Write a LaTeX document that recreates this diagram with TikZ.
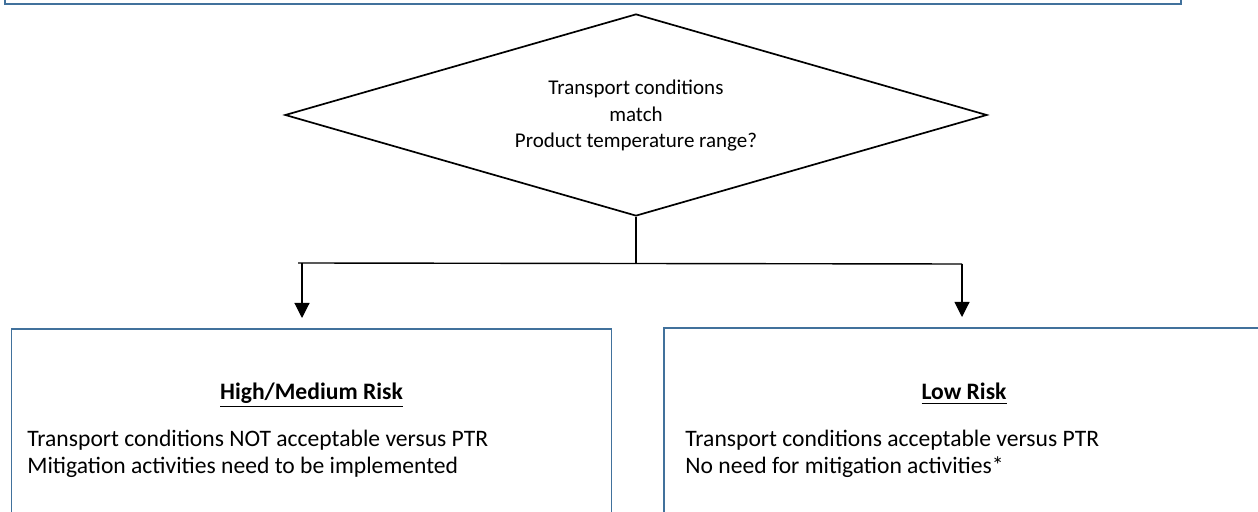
\documentclass[tikz,border=0pt]{standalone}
\usepackage{fontspec}
\setmainfont{Carlito}
\usetikzlibrary{shapes.geometric,arrows.meta,positioning}
\definecolor{boxblue}{RGB}{65,113,156}
\tikzset{
  bluebox/.style={draw=boxblue,line width=0.8pt,inner sep=0pt},
  riskbox/.style={bluebox,minimum width=300pt,minimum height=130pt,anchor=north},
  riskhead/.style={font=\fontsize{11.8}{14.5}\selectfont\bfseries,anchor=base,inner sep=0pt},
  riskline/.style={font=\fontsize{11.8}{14.5}\selectfont,anchor=base west,inner sep=0pt},
  link/.style={line width=0.55pt},
  arrowlink/.style={link,-{Triangle[width=7.5pt,length=7.5pt]},shorten >=5pt}
}
\begin{document}
\begin{tikzpicture}[x=0.5pt,y=-0.5pt]
\useasboundingbox (0,0) rectangle (1258,512);
\clip (0,0) rectangle (1258,512);
% boxes
\node[bluebox,minimum width=588pt,minimum height=60pt,anchor=south] (topbox) at (593,5) {};
\node[draw,diamond,line width=0.85pt,minimum width=351pt,minimum height=101pt,aspect=3.475,inner sep=0pt] (dec) at (636,115) {};
\node[font=\fontsize{10.5}{13.25}\selectfont,align=center,inner sep=0pt] (dectext) at (636,116) {Transport conditions\\match\\Product temperature range?};
\node[riskbox] (hmbox) at (311.5,328) {};
\node[riskbox] (lowbox) at (964,327) {};
% texts
\node[riskhead] (hmhead) at (311.5,400) {\underline{High/Medium Risk}};
\node[riskline] (hmline1) at (27,447) {Transport conditions NOT acceptable versus PTR};
\node[riskline] (hmline2) at (27,474) {Mitigation activities need to be implemented};
\node[riskhead] (lowhead) at (964,400) {\underline{Low Risk}};
\node[riskline] (lowline1) at (685,447) {Transport conditions acceptable versus PTR};
\node[riskline] (lowline2) at (685,474) {No need for mitigation activities*};
% connectors
\coordinate (jn) at (636,263);
\coordinate (jl) at (302,263);
\coordinate (jr) at (962,264);
\draw[link] (dec.south) -- (jn);
\draw[link,line width=0.7pt] (298,263) coordinate (jstart) -- (jr);
\draw[arrowlink] (jl) -- (jl |- hmbox.north);
\draw[arrowlink] (jr) -- (jr |- lowbox.north);
\end{tikzpicture}
\end{document}
